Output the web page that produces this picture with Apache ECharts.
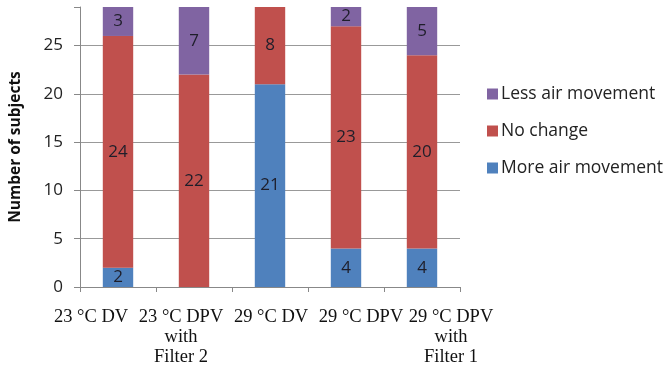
<!DOCTYPE html>
<html><head><meta charset="utf-8">
<script src="https://cdn.jsdelivr.net/npm/echarts@6/dist/echarts.min.js"></script>
<style>html,body{margin:0;padding:0;background:#fff}#c{width:670px;height:367px}</style>
</head><body><div id="c"></div>
<script>
const categories = ['23 °C DV', '23 °C DPV\nwith\nFilter 2', '29 °C DV', '29 °C DPV', '29 °C DPV\nwith\nFilter 1'];
const moreAir = [2, 0, 21, 4, 4];
const noChange = [24, 22, 8, 23, 20];
const lessAir = [3, 7, 0, 2, 5];
const yTicks = [0, 5, 10, 15, 20, 25];

const chart = echarts.init(document.getElementById('c'));
const lbl = {
  show: true, position: 'inside', color: '#1e1e2a', fontSize: 17,
  fontFamily: 'Open Sans',
  formatter: p => p.value ? String(p.value) : ''
};
chart.setOption({
  animation: false,
  grid: [
    { left: 75, right: 210, top: 7, bottom: 80 },
    { left: 46, width: 450, top: 7, bottom: 80 }
  ],
  legend: {
    orient: 'vertical', left: 482, top: 80, itemGap: 19,
    itemWidth: 11, itemHeight: 11, icon: 'rect',
    data: ['Less air movement', 'No change', 'More air movement'],
    textStyle: { fontSize: 17.5, color: '#222', fontFamily: 'Open Sans', padding: [0, 0, 0, -2] }
  },
  xAxis: [{
    type: 'category', data: categories, gridIndex: 0,
    axisLine: { lineStyle: { color: '#888' } },
    axisTick: { show: true, length: 5, lineStyle: { color: '#888' } },
    splitLine: { show: false },
    axisLabel: { show: false }
  }, {
    type: 'category', data: categories, gridIndex: 1,
    axisLine: { show: false }, axisTick: { show: false }, splitLine: { show: false },
    axisLabel: { fontFamily: 'Liberation Serif', fontSize: 18.5, color: '#111', lineHeight: 20, margin: 21, interval: 0 }
  }],
  yAxis: [{
    type: 'value', min: 0, max: 29, interval: 5, gridIndex: 0,
    name: 'Number of subjects', nameLocation: 'middle', nameGap: 56,
    nameTextStyle: { fontFamily: 'Open Sans', fontWeight: 'bold', fontSize: 15.5, color: '#111' },
    axisLine: { show: true, lineStyle: { color: '#888' } },
    axisTick: { show: true, length: 6, lineStyle: { color: '#888' } },
    splitLine: { showMaxLine: false, lineStyle: { color: '#999' } },
    axisLabel: {
      fontFamily: 'Open Sans', fontSize: 17, color: '#222', margin: 17,
      formatter: v => yTicks.includes(v) ? String(v) : ''
    }
  }, {
    type: 'value', min: 0, max: 29, gridIndex: 1, show: false
  }],
  series: [
    { name: 'More air movement', type: 'bar', stack: 't', data: moreAir, barWidth: '40%', itemStyle: { color: '#4F81BD' }, label: lbl },
    { name: 'No change', type: 'bar', stack: 't', data: noChange, itemStyle: { color: '#C0504D' }, label: lbl },
    { name: 'Less air movement', type: 'bar', stack: 't', data: lessAir, itemStyle: { color: '#8064A2' }, label: lbl }
  ]
});
</script></body></html>
